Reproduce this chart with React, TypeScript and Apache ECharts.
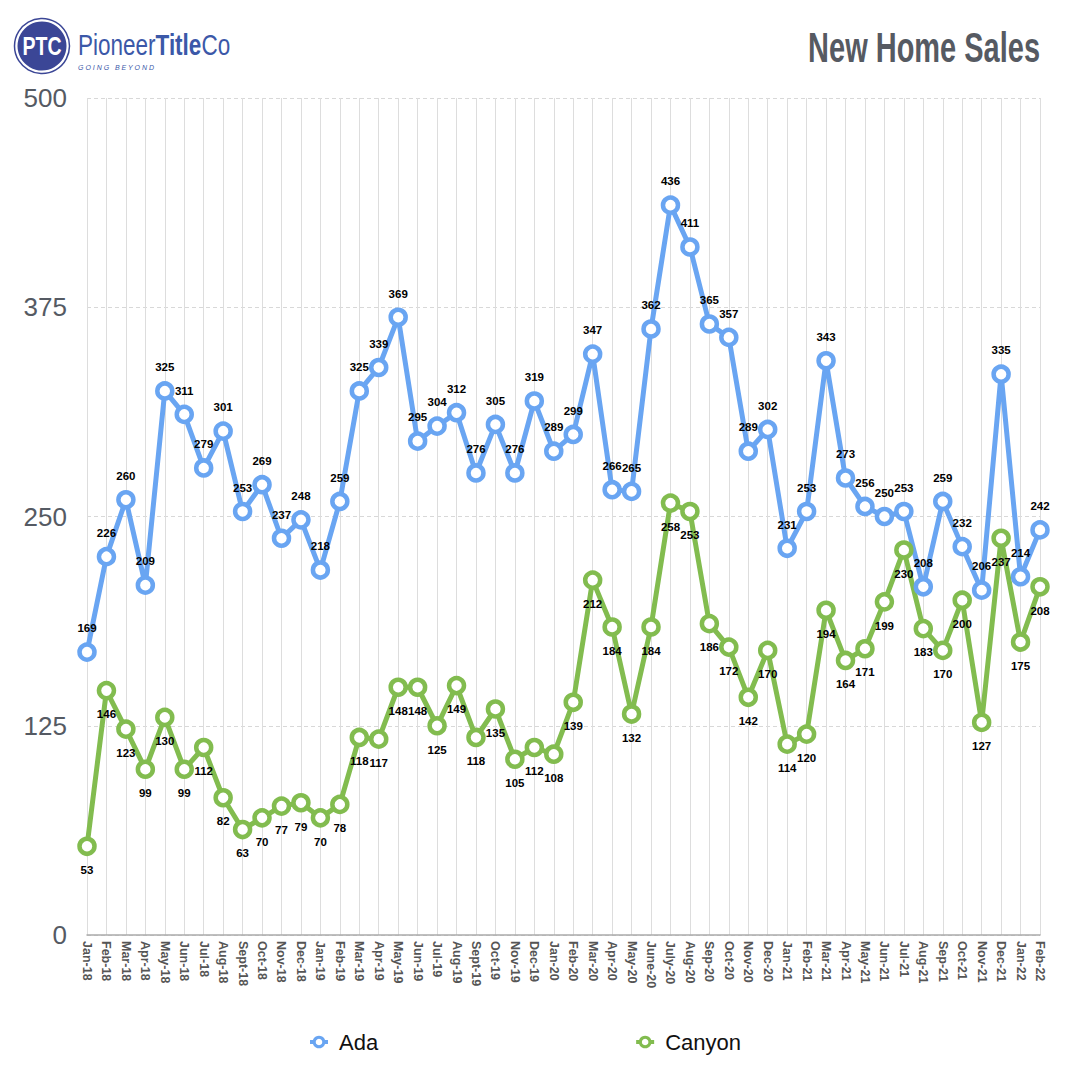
import React, { useEffect, useRef } from "react";
import * as echarts from "echarts";

const categories = [
  "Jan-18","Feb-18","Mar-18","Apr-18","May-18","Jun-18","Jul-18","Aug-18","Sept-18","Oct-18","Nov-18","Dec-18",
  "Jan-19","Feb-19","Mar-19","Apr-19","May-19","Jun-19","Jul-19","Aug-19","Sept-19","Oct-19","Nov-19","Dec-19",
  "Jan-20","Feb-20","Mar-20","Apr-20","May-20","June-20","July-20","Aug-20","Sep-20","Oct-20","Nov-20","Dec-20",
  "Jan-21","Feb-21","Mar-21","Apr-21","May-21","Jun-21","Jul-21","Aug-21","Sep-21","Oct-21","Nov-21","Dec-21",
  "Jan-22","Feb-22",
];

const adaValues = [
  169,226,260,209,325,311,279,301,253,269,237,248,
  218,259,325,339,369,295,304,312,276,305,276,319,
  289,299,347,266,265,362,436,411,365,357,289,302,
  231,253,343,273,256,250,253,208,259,232,206,335,
  214,242,
];

const canyonValues = [
  53,146,123,99,130,99,112,82,63,70,77,79,
  70,78,118,117,148,148,125,149,118,135,105,112,
  108,139,212,184,132,184,258,253,186,172,142,170,
  114,120,194,164,171,199,230,183,170,200,127,237,
  175,208,
];

const yTicks = [0, 125, 250, 375, 500];

const ADA = "#69a5f2";
const CANYON = "#82bc4f";
const BRAND = "#3b58a8";

export default function App() {
  const ref = useRef<HTMLDivElement>(null);
  useEffect(() => {
    if (!ref.current) return;
    const chart = echarts.init(ref.current, undefined, { renderer: "svg" });
    const mkSeries = (name: string, data: number[], color: string, pos: string) => ({
      name,
      type: "line",
      data,
      symbol: "circle",
      symbolSize: 15,
      lineStyle: { color, width: 5 },
      itemStyle: { color: "#ffffff", borderColor: color, borderWidth: 4.5 },
      label: {
        show: true,
        position: pos,
        distance: 8,
        color: "#000",
        fontWeight: "bold",
        fontSize: 11.5,
        fontFamily: "Liberation Sans, Arial, sans-serif",
      },
    });
    chart.setOption({
      animation: false,
      backgroundColor: "#ffffff",
      grid: { left: 87, right: 40, top: 98, bottom: 145, containLabel: false },
      legend: {
        bottom: 22,
        left: 303,
        itemGap: 256,
        itemWidth: 18,
        itemHeight: 12,
        textStyle: {
          fontSize: 22,
          color: "#111",
          padding: [0, 0, 0, 6],
          fontFamily: "Liberation Sans, Arial, sans-serif",
        },
        data: [
          { name: "Ada", itemStyle: { color: "#fff", borderColor: ADA, borderWidth: 3 }, lineStyle: { color: ADA, width: 4 } },
          { name: "Canyon", itemStyle: { color: "#fff", borderColor: CANYON, borderWidth: 3 }, lineStyle: { color: CANYON, width: 4 } },
        ],
      },
      xAxis: {
        type: "category",
        data: categories,
        boundaryGap: false,
        axisLine: { lineStyle: { color: "#aaaaaa", width: 1.5 } },
        axisTick: { show: false },
        axisLabel: {
          rotate: -90,
          interval: 0,
          fontSize: 12.5,
          fontWeight: "bold",
          color: "#555",
          margin: 6,
          fontFamily: "Liberation Sans, Arial, sans-serif",
        },
        splitLine: { show: true, lineStyle: { color: "#dddddd", width: 1 } },
      },
      yAxis: {
        type: "value",
        min: yTicks[0],
        max: yTicks[yTicks.length - 1],
        interval: 125,
        axisLine: { show: false },
        axisTick: { show: false },
        axisLabel: {
          fontSize: 26,
          color: "#555a63",
          margin: 20,
          fontFamily: "Liberation Sans, Arial, sans-serif",
        },
        splitLine: { show: true, lineStyle: { color: "#d8d8d8", type: [4, 3], width: 1 } },
      },
      series: [mkSeries("Ada", adaValues, ADA, "top"), mkSeries("Canyon", canyonValues, CANYON, "bottom")],
      graphic: [
        {
          type: "text",
          x: 1040,
          y: 47,
          scaleX: 0.69,
          style: {
            text: "New Home Sales",
            align: "right",
            verticalAlign: "middle",
            fontSize: 42,
            fontWeight: "bold",
            fill: "#565a62",
            fontFamily: "Liberation Sans, Arial, sans-serif",
          },
        },
        { type: "circle", shape: { cx: 42, cy: 46, r: 27.5 }, style: { fill: "#fff", stroke: "#3b4696", lineWidth: 1.5 } },
        { type: "circle", shape: { cx: 42, cy: 46, r: 24.5 }, style: { fill: "#3b4696" } },
        {
          type: "text",
          x: 42,
          y: 47,
          scaleX: 0.78,
          style: {
            text: "PTC",
            align: "center",
            verticalAlign: "middle",
            fontSize: 25,
            fontWeight: "bold",
            fill: "#fff",
            fontFamily: "Liberation Sans, Arial, sans-serif",
          },
        },
        {
          type: "text",
          x: 78,
          y: 45,
          scaleX: 0.75,
          style: {
            rich: {
              r: { fontSize: 30, lineHeight: 28, fill: BRAND, fontFamily: "Liberation Sans, Arial, sans-serif" },
              b: { fontSize: 30, lineHeight: 28, fontWeight: "bold", fill: BRAND, fontFamily: "Liberation Sans, Arial, sans-serif" },
            },
            text: "{r|Pioneer}{b|Title}{r|Co}",
            verticalAlign: "middle",
          },
        },
        {
          type: "text",
          x: 78,
          y: 67,
          style: {
            text: "G O I N G   B E Y O N D",
            fontSize: 7,
            lineHeight: 7,
            fontStyle: "italic",
            fill: BRAND,
            verticalAlign: "middle",
            fontFamily: "Liberation Sans, Arial, sans-serif",
          },
        },
      ],
    });
    return () => chart.dispose();
  }, []);
  return <div ref={ref} style={{ width: 1080, height: 1080, margin: -8 }} />;
}
